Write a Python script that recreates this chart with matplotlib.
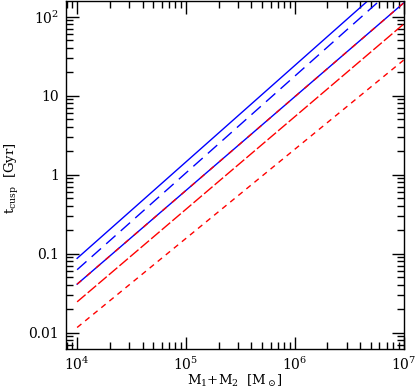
import numpy as np
import matplotlib
matplotlib.use('Agg')
import matplotlib.pyplot as plt
from matplotlib.ticker import FixedLocator, FixedFormatter, LogLocator, NullFormatter

plt.rcParams['font.family'] = 'DejaVu Serif'
plt.rcParams['mathtext.fontset'] = 'dejavuserif'

# masses at the ends of each line [Msun]
mass = [1e4, 1e7]

# t_cusp [Gyr] read at M = 1e4 and 1e7
blue_solid = [0.087, 398]
blue_dash = [0.0625, 295]
mixed = [0.041, 148]
red_long = [0.0245, 80]
red_short = [0.0116, 28]

xticks = [1e4, 1e5, 1e6, 1e7]
xlabels = ['10$^4$', '10$^5$', '10$^6$', '10$^7$']
yticks = [0.01, 0.1, 1, 10, 100]
ylabels = ['0.01', '0.1', '1', '10', '10$^2$']

fig = plt.figure(figsize=(4.15, 3.92), dpi=100)
ax = fig.add_axes([0.159, 0.1097, 0.8145, 0.8865])

def line(y):
    # straight line in log-log through the two end values
    lx = np.linspace(np.log10(mass[0]), np.log10(mass[1]), 50)
    ly = np.interp(lx, np.log10(mass), np.log10(y))
    return 10**lx, 10**ly

ax.plot(*line(blue_solid), color='#0000ff', lw=1.0)
ax.plot(*line(blue_dash), color='#0000ff', lw=1.0, dashes=(9, 5))
ax.plot(*line(mixed), color='#0000ff', lw=1.0)
ax.plot(*line(mixed), color='#ff0000', lw=1.0, dashes=(4, 5))
ax.plot(*line(red_long), color='#ff0000', lw=1.0, dashes=(8, 2))
ax.plot(*line(red_short), color='#ff0000', lw=1.0, dashes=(4, 3.5))

ax.set_xscale('log')
ax.set_yscale('log')
ax.set_xlim(7.9e3, 1.01e7)
ax.set_ylim(0.0062, 155)

ax.xaxis.set_major_locator(FixedLocator(xticks))
ax.xaxis.set_major_formatter(FixedFormatter(xlabels))
ax.yaxis.set_major_locator(FixedLocator(yticks))
ax.yaxis.set_major_formatter(FixedFormatter(ylabels))
ax.xaxis.set_minor_locator(LogLocator(base=10, subs=np.arange(2, 10)))
ax.yaxis.set_minor_locator(LogLocator(base=10, subs=np.arange(2, 10)))
ax.xaxis.set_minor_formatter(NullFormatter())
ax.yaxis.set_minor_formatter(NullFormatter())

ax.tick_params(which='both', direction='in', top=True, right=True, width=1.0, labelsize=10)
ax.tick_params(which='major', length=9, pad=5)
ax.tick_params(which='minor', length=5)
for s in ax.spines.values():
    s.set_linewidth(1.0)

fig.text(0.566, 0.028, r'M$_1$+M$_2$  [M$_\odot$]', fontsize=9.5, ha='center', va='center')
fig.text(0.03, 0.546, r't$_{\rm cusp}$  [Gyr]', fontsize=9.5, ha='center', va='center', rotation=90)

fig.savefig('out.png', dpi=100)
